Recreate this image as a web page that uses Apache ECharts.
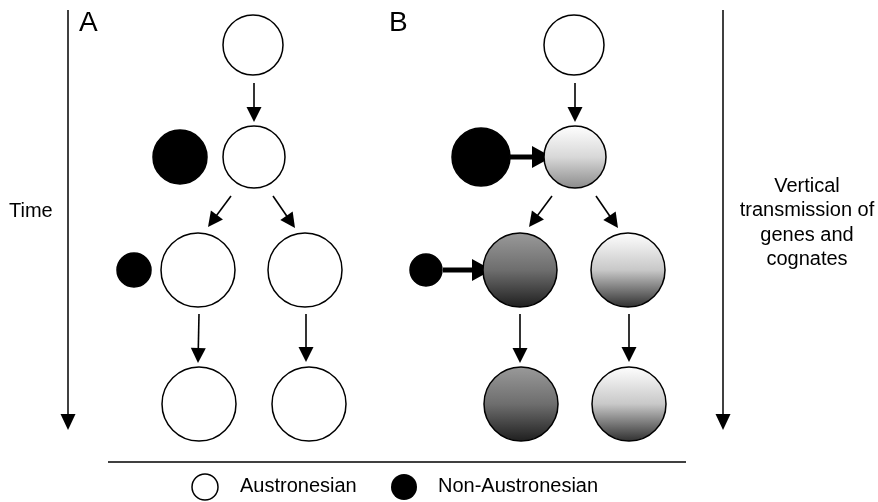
<!DOCTYPE html>
<html><head><meta charset="utf-8">
<script src="https://cdn.jsdelivr.net/npm/echarts@6/dist/echarts.min.js"></script>
<style>html,body{margin:0;padding:0;background:#fff}#c{width:878px;height:502px}</style>
</head><body><div id="c"></div>
<script>
// Node data (diagram positions in figure units)
const nodeX = [253, 254, 180, 134, 198, 305, 199, 309,   574, 575, 481, 426, 520, 628, 521, 629];
const nodeY = [45, 157, 157, 270, 270, 270, 404, 404,    45, 157, 157, 270, 270, 270, 404, 404];
const nodeR = [30, 31, 27, 17, 37, 37, 37, 37,           30, 31, 29, 16, 37, 37, 37, 37];
const nodeKind = ['white','white','black','black','white','white','white','white',
                  'white','light','black','black','dark','fade','dark','fade'];
// Arrows: [x1, y1, x2, y2, thick]
const arrowX1 = [254, 231, 273, 199, 306,   575, 552, 596, 520, 629,   510, 443];
const arrowY1 = [83, 196, 196, 314, 314,    83, 196, 196, 314, 314,    157, 270];
const arrowX2 = [254, 208, 295, 198, 306,   575, 529, 618, 520, 629,   552, 492];
const arrowY2 = [122, 227, 228, 363, 362,   122, 227, 228, 363, 362,   157, 270];
const arrowThick = [0,0,0,0,0, 0,0,0,0,0, 1,1];
// Time axes
const axisX = [68, 723];
const legendLabels = ['Austronesian', 'Non-Austronesian'];
const sideText = ['Vertical', 'transmission of', 'genes and', 'cognates'];

function fillFor(kind) {
  const lg = (stops) => new echarts.graphic.LinearGradient(0, 0, 0, 1, stops.map((c, i) => ({offset: i / (stops.length - 1), color: c})));
  if (kind === 'black') return '#000';
  if (kind === 'white') return '#fff';
  if (kind === 'light') return lg(['#ffffff', '#d8d8d8', '#8a8a8a']);
  if (kind === 'dark') return lg(['#9a9a9a', '#6e6e6e', '#1e1e1e']);
  if (kind === 'fade') return lg(['#ffffff', '#c8c8c8', '#2e2e2e']);
  return '#fff';
}

const nodeData = nodeX.map((x, i) => [x, nodeY[i], nodeR[i], i]);
const arrowData = arrowX1.map((x, i) => [x, arrowY1[i], arrowX2[i], arrowY2[i], arrowThick[i]]);
const axisData = axisX.map(x => [x, 10, x, 430, 2]);

function arrowShape(api, x1, y1, x2, y2, lw, headL, headW) {
  const p1 = api.coord([x1, y1]);
  const p2 = api.coord([x2, y2]);
  const dx = p2[0] - p1[0], dy = p2[1] - p1[1];
  const len = Math.sqrt(dx * dx + dy * dy);
  const ux = dx / len, uy = dy / len;
  const bx = p2[0] - ux * headL, by = p2[1] - uy * headL;
  const nx = -uy, ny = ux;
  return {
    type: 'group',
    children: [
      {type: 'line', shape: {x1: p1[0], y1: p1[1], x2: bx + ux * 1, y2: by + uy * 1},
        style: {stroke: '#000', lineWidth: lw}},
      {type: 'polygon', shape: {points: [[p2[0], p2[1]], [bx + nx * headW, by + ny * headW], [bx - nx * headW, by - ny * headW]]},
        style: {fill: '#000'}}
    ]
  };
}

const FONT = '"Liberation Sans", Arial, sans-serif';
const chart = echarts.init(document.getElementById('c'));
chart.setOption({
  animation: false,
  backgroundColor: '#fff',
  grid: {left: 0, right: 0, top: 0, bottom: 0},
  xAxis: {type: 'value', min: 0, max: 878, show: false},
  yAxis: {type: 'value', min: 0, max: 502, inverse: true, show: false},
  series: [
    {
      type: 'custom', coordinateSystem: 'cartesian2d', data: axisData,
      renderItem: (p, api) => arrowShape(api, api.value(0), api.value(1), api.value(2), api.value(3), 1.5, 16, 7.5)
    },
    {
      type: 'custom', coordinateSystem: 'cartesian2d', data: arrowData,
      renderItem: (p, api) => api.value(4)
        ? arrowShape(api, api.value(0), api.value(1), api.value(2), api.value(3), 5, 20, 11)
        : arrowShape(api, api.value(0), api.value(1), api.value(2), api.value(3), 1.6, 15, 7.5)
    },
    {
      type: 'custom', coordinateSystem: 'cartesian2d', data: nodeData,
      renderItem: (p, api) => {
        const c = api.coord([api.value(0), api.value(1)]);
        const r = api.size([api.value(2), 0])[0];
        const kind = nodeKind[api.value(3)];
        return {type: 'circle', shape: {cx: c[0], cy: c[1], r: r},
          style: {fill: fillFor(kind), stroke: '#000', lineWidth: 1.5}};
      }
    }
  ],
  graphic: [
    {type: 'text', left: 79, top: 9, style: {text: 'A', font: '28px ' + FONT, fill: '#000'}},
    {type: 'text', left: 389, top: 9, style: {text: 'B', font: '28px ' + FONT, fill: '#000'}},
    {type: 'text', left: 9, top: 201, style: {text: 'Time', font: '20px ' + FONT, fill: '#000'}},
    {type: 'text', x: 807, y: 174, style: {text: sideText.join('\n'), align: 'center', lineHeight: 24.5, font: '20px ' + FONT, fill: '#000'}},
    {type: 'line', shape: {x1: 108, y1: 462, x2: 686, y2: 462}, style: {stroke: '#000', lineWidth: 1.5}},
    {type: 'circle', shape: {cx: 205, cy: 487, r: 13}, style: {fill: '#fff', stroke: '#000', lineWidth: 1.5}},
    {type: 'text', left: 240, top: 476, style: {text: legendLabels[0], font: '20px ' + FONT, fill: '#000'}},
    {type: 'circle', shape: {cx: 404, cy: 487, r: 13}, style: {fill: '#000'}},
    {type: 'text', left: 438, top: 476, style: {text: legendLabels[1], font: '20px ' + FONT, fill: '#000'}}
  ]
});
</script></body></html>
